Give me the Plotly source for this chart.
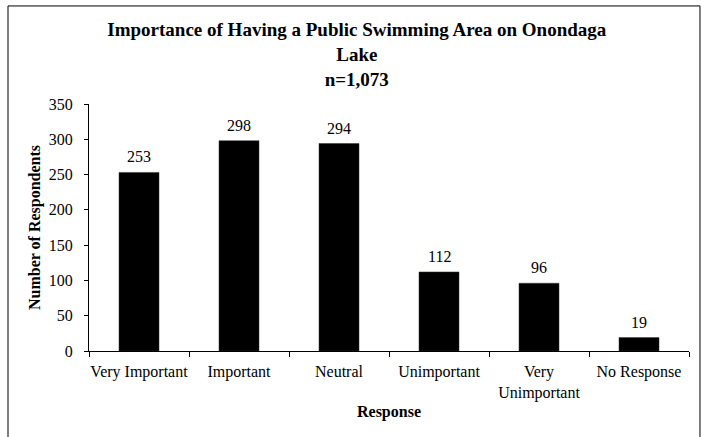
import plotly.graph_objects as go

# Survey responses
categories = ["Very Important", "Important", "Neutral", "Unimportant",
              "Very<br>Unimportant", "No Response"]
respondents = [253, 298, 294, 112, 96, 19]
y_ticks = [0, 50, 100, 150, 200, 250, 300, 350]

SERIF = "Liberation Serif, Times New Roman, serif"

fig = go.Figure()
fig.add_trace(go.Bar(
    x=categories,
    y=respondents,
    marker=dict(color="black", line=dict(color="#333333", width=0.5)),
    width=0.4,
    hoverinfo="x+y",
))

# value labels above each bar
for c, v in zip(categories, respondents):
    fig.add_annotation(x=c, y=v, text=str(v), showarrow=False,
                       yanchor="bottom", yshift=5,
                       font=dict(family=SERIF, size=16, color="black"))

# outer frame around the chart
fig.add_shape(type="rect", xref="paper", yref="paper",
              x0=-0.135, x1=1.0183, y0=-0.38, y1=1.397,
              line=dict(color="black", width=1), fillcolor="rgba(0,0,0,0)")

fig.update_layout(
    width=701, height=437,
    margin=dict(l=89, r=12, t=104, b=86, autoexpand=False),
    paper_bgcolor="white", plot_bgcolor="white",
    font=dict(family=SERIF, size=16, color="black"),
    showlegend=False,
    title=dict(
        text="<b>Importance of Having a Public Swimming Area on Onondaga<br>Lake<br>n=1,073</b>",
        x=0.509, xanchor="center", xref="container",
        y=0.917, yanchor="top", yref="container",
        font=dict(family=SERIF, size=19, color="black"),
    ),
    xaxis=dict(
        type="category",
        automargin=False,
        tickangle=0,
        showline=True, linecolor="black", linewidth=1,
        ticks="outside", ticklen=5, tickcolor="black",
        tickson="boundaries",
        ticklabelstandoff=6,
        showgrid=False,
        tickfont=dict(family=SERIF, size=16),
        title=dict(text="<b>Response</b>", font=dict(family=SERIF, size=16), standoff=4),
    ),
    yaxis=dict(
        range=[0, 350],
        automargin=False,
        tickvals=y_ticks,
        showline=True, linecolor="black", linewidth=1,
        ticks="outside", ticklen=4, tickcolor="black",
        ticklabelstandoff=8,
        showgrid=False, zeroline=False,
        tickfont=dict(family=SERIF, size=16),
        title=dict(text="<b>Number of Respondents</b>", font=dict(family=SERIF, size=16), standoff=4),
    ),
)

fig.write_html("out.html")
